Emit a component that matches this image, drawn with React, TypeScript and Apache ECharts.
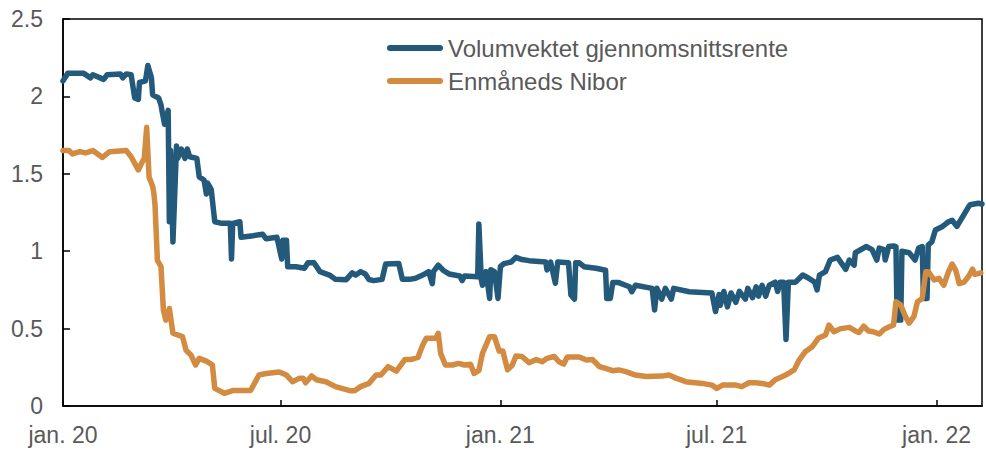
import React, { useEffect, useRef } from "react";
import * as echarts from "echarts";

const xMin = "2020-01-01";
const xMax = "2022-02-08";
const tickDates = ["2020-01-01", "2020-07-01", "2021-01-01", "2021-07-01", "2022-01-01"];
const tickLabels = ["jan. 20", "jul. 20", "jan. 21", "jul. 21", "jan. 22"];
const seriesNames = ["Volumvektet gjennomsnittsrente", "Enmåneds Nibor"];

const volumDates = [
  "2020-01-01","2020-01-05","2020-01-18","2020-01-24","2020-01-26","2020-02-04","2020-02-07","2020-02-18","2020-02-20","2020-02-23",
  "2020-02-27","2020-03-01","2020-03-04","2020-03-05","2020-03-10","2020-03-12","2020-03-15","2020-03-16","2020-03-21","2020-03-23",
  "2020-03-24","2020-03-26","2020-03-29","2020-03-30","2020-03-31","2020-04-02","2020-04-05","2020-04-06","2020-04-09","2020-04-12",
  "2020-04-14","2020-04-16","2020-04-22","2020-04-24","2020-04-28","2020-04-30","2020-05-01","2020-05-04","2020-05-07","2020-05-13",
  "2020-05-20","2020-05-21","2020-05-22","2020-05-28","2020-05-29","2020-06-08","2020-06-16","2020-06-19","2020-06-28","2020-07-02",
  "2020-07-03","2020-07-06","2020-07-07","2020-07-14","2020-07-21","2020-07-24","2020-07-29","2020-08-03","2020-08-11","2020-08-16",
  "2020-08-25","2020-08-30","2020-09-02","2020-09-06","2020-09-10","2020-09-13","2020-09-17","2020-09-24","2020-09-27","2020-10-08",
  "2020-10-11","2020-10-17","2020-10-22","2020-10-28","2020-11-02","2020-11-05","2020-11-06","2020-11-10","2020-11-14","2020-11-19",
  "2020-11-28","2020-11-30","2020-12-02","2020-12-13","2020-12-14","2020-12-16","2020-12-17","2020-12-20","2020-12-23","2020-12-24",
  "2020-12-27","2020-12-30","2021-01-01","2021-01-04","2021-01-10","2021-01-14","2021-01-19","2021-01-25","2021-02-08","2021-02-09",
  "2021-02-12","2021-02-16","2021-02-18","2021-02-27","2021-03-01","2021-03-04","2021-03-05","2021-03-08","2021-03-12","2021-03-22",
  "2021-03-30","2021-03-31","2021-04-03","2021-04-05","2021-04-10","2021-04-19","2021-04-21","2021-04-24","2021-05-08","2021-05-10",
  "2021-05-12","2021-05-16","2021-05-19","2021-05-24","2021-05-26","2021-06-08","2021-06-27","2021-06-30","2021-07-03","2021-07-04",
  "2021-07-07","2021-07-10","2021-07-13","2021-07-17","2021-07-20","2021-07-25","2021-07-27","2021-07-31","2021-08-03","2021-08-05",
  "2021-08-08","2021-08-11","2021-08-14","2021-08-19","2021-08-21","2021-08-23","2021-08-26","2021-08-28","2021-08-30","2021-09-05",
  "2021-09-11","2021-09-16","2021-09-21","2021-09-23","2021-09-25","2021-09-30","2021-10-04","2021-10-10","2021-10-17","2021-10-20",
  "2021-10-24","2021-10-25","2021-11-03","2021-11-08","2021-11-12","2021-11-14","2021-11-18","2021-11-19","2021-11-22","2021-11-26",
  "2021-11-28","2021-11-29","2021-12-02","2021-12-03","2021-12-09","2021-12-14","2021-12-17","2021-12-20","2021-12-21","2021-12-24",
  "2021-12-25","2021-12-28","2021-12-31","2022-01-06","2022-01-11","2022-01-14","2022-01-18","2022-01-22","2022-01-27","2022-01-29",
  "2022-02-05","2022-02-08"
];
const volumValues = [
  2.10,2.15,2.15,2.12,2.14,2.11,2.14,2.145,2.12,2.145,
  2.14,1.99,1.98,2.09,2.10,2.20,2.12,2.01,1.99,1.945,
  1.90,1.82,1.91,1.19,1.65,1.06,1.68,1.60,1.66,1.60,
  1.66,1.61,1.60,1.48,1.46,1.37,1.44,1.40,1.19,1.18,
  1.18,0.95,1.18,1.19,1.09,1.10,1.11,1.08,1.09,0.95,
  1.07,1.07,0.90,0.90,0.89,0.926,0.925,0.868,0.846,0.818,
  0.816,0.86,0.846,0.868,0.853,0.817,0.81,0.818,0.917,0.92,
  0.818,0.818,0.825,0.846,0.868,0.79,0.868,0.91,0.877,0.853,
  0.84,0.81,0.84,0.835,1.175,0.817,0.78,0.868,0.695,0.88,
  0.868,0.695,0.90,0.92,0.93,0.96,0.946,0.939,0.93,0.879,
  0.93,0.793,0.93,0.925,0.717,0.69,0.925,0.925,0.90,0.89,
  0.877,0.695,0.695,0.797,0.797,0.77,0.738,0.78,0.76,0.62,
  0.76,0.69,0.76,0.69,0.76,0.738,0.73,0.61,0.72,0.65,
  0.74,0.64,0.73,0.67,0.74,0.69,0.76,0.70,0.77,0.71,
  0.78,0.71,0.78,0.80,0.74,0.80,0.80,0.43,0.80,0.80,
  0.846,0.825,0.80,0.75,0.846,0.868,0.943,0.96,0.883,0.943,
  0.91,0.99,1.03,1.01,0.943,1.02,1.01,0.943,1.03,1.034,
  1.03,0.555,0.555,1.00,0.99,0.943,1.02,1.03,0.695,0.695,
  1.04,1.06,1.137,1.16,1.19,1.20,1.16,1.212,1.277,1.30,
  1.31,1.305
];

const niborDates = [
  "2020-01-01","2020-01-06","2020-01-09","2020-01-15","2020-01-20","2020-01-26","2020-02-03","2020-02-09","2020-02-23","2020-02-27",
  "2020-03-04","2020-03-06","2020-03-09","2020-03-11","2020-03-13","2020-03-16","2020-03-17","2020-03-18","2020-03-20","2020-03-23",
  "2020-03-25","2020-03-27","2020-03-30","2020-04-02","2020-04-10","2020-04-13","2020-04-17","2020-04-21","2020-04-24","2020-04-30",
  "2020-05-05","2020-05-07","2020-05-15","2020-05-22","2020-06-06","2020-06-13","2020-06-19","2020-06-30","2020-07-06","2020-07-11",
  "2020-07-17","2020-07-20","2020-07-22","2020-07-27","2020-07-31","2020-08-08","2020-08-16","2020-08-28","2020-09-01","2020-09-06",
  "2020-09-13","2020-09-19","2020-09-23","2020-09-29","2020-10-06","2020-10-13","2020-10-18","2020-10-24","2020-10-28","2020-10-31",
  "2020-11-08","2020-11-10","2020-11-12","2020-11-16","2020-11-22","2020-11-27","2020-12-02","2020-12-07","2020-12-10","2020-12-14",
  "2020-12-17","2020-12-23","2020-12-27","2020-12-31","2021-01-03","2021-01-07","2021-01-11","2021-01-14","2021-01-19","2021-01-25",
  "2021-01-31","2021-02-05","2021-02-09","2021-02-15","2021-02-19","2021-02-23","2021-02-26","2021-03-08","2021-03-14","2021-03-19",
  "2021-03-25","2021-03-30","2021-04-05","2021-04-10","2021-04-16","2021-04-24","2021-05-03","2021-05-16","2021-05-22","2021-05-28",
  "2021-06-05","2021-06-19","2021-06-27","2021-07-01","2021-07-06","2021-07-17","2021-07-22","2021-07-28","2021-08-03","2021-08-08",
  "2021-08-14","2021-08-19","2021-08-25","2021-08-30","2021-09-04","2021-09-08","2021-09-13","2021-09-19","2021-09-24","2021-09-30",
  "2021-10-03","2021-10-07","2021-10-13","2021-10-20","2021-10-25","2021-10-28","2021-11-01","2021-11-05","2021-11-09","2021-11-14",
  "2021-11-18","2021-11-22","2021-11-26","2021-11-28","2021-12-02","2021-12-06","2021-12-09","2021-12-13","2021-12-16","2021-12-20",
  "2021-12-23","2021-12-25","2021-12-30","2022-01-03","2022-01-07","2022-01-11","2022-01-14","2022-01-17","2022-01-20","2022-01-24",
  "2022-01-28","2022-01-31","2022-02-02","2022-02-07"
];
const niborValues = [
  1.65,1.65,1.628,1.643,1.635,1.65,1.606,1.643,1.65,1.61,
  1.525,1.557,1.60,1.80,1.48,1.42,1.375,1.30,0.94,0.90,
  0.62,0.555,0.63,0.47,0.448,0.36,0.33,0.265,0.308,0.29,
  0.265,0.114,0.082,0.10,0.10,0.20,0.21,0.22,0.20,0.157,
  0.18,0.179,0.15,0.194,0.17,0.157,0.125,0.099,0.099,0.125,
  0.146,0.20,0.20,0.254,0.225,0.30,0.30,0.314,0.394,0.437,
  0.437,0.47,0.34,0.265,0.265,0.275,0.265,0.27,0.21,0.23,
  0.34,0.448,0.448,0.355,0.355,0.233,0.265,0.323,0.32,0.28,
  0.30,0.286,0.308,0.32,0.286,0.271,0.317,0.317,0.297,0.30,
  0.254,0.243,0.228,0.233,0.222,0.20,0.19,0.193,0.20,0.18,
  0.157,0.146,0.135,0.114,0.135,0.135,0.125,0.15,0.15,0.146,
  0.135,0.17,0.19,0.21,0.235,0.297,0.35,0.383,0.437,0.458,
  0.523,0.48,0.50,0.508,0.485,0.475,0.515,0.485,0.48,0.465,
  0.495,0.51,0.523,0.674,0.652,0.577,0.535,0.577,0.674,0.695,
  0.868,0.868,0.814,0.825,0.78,0.868,0.917,0.878,0.79,0.80,
  0.84,0.884,0.85,0.86
];

const BLUE = "#235a7b";
const ORANGE = "#d28b40";
const TEXT = "#595959";
const FONT = "'Liberation Sans', Arial, sans-serif";

export default function App() {
  const ref = useRef<HTMLDivElement>(null);

  useEffect(() => {
    if (!ref.current) return;
    const chart = echarts.init(ref.current, undefined, { renderer: "svg" });
    const parse = (d: string) => echarts.time.parse(d).getTime();
    const tickTs = tickDates.map(parse);
    const capsule = "path://M3,0 L53,0 A3,3 0 0 1 53,6 L3,6 A3,3 0 0 1 3,0 Z";

    chart.setOption({
      animation: false,
      backgroundColor: "#ffffff",
      textStyle: { fontFamily: FONT },
      grid: {
        left: 63,
        right: 4,
        top: 19,
        bottom: 44,
        show: true,
        borderColor: "#000000",
        borderWidth: 1.5,
        backgroundColor: "transparent",
      },
      legend: {
        data: seriesNames,
        orient: "vertical",
        left: 382,
        top: 31,
        itemWidth: 56,
        itemHeight: 6,
        itemGap: 9,
        icon: capsule,
        textStyle: { color: TEXT, fontSize: 24, fontFamily: FONT, lineHeight: 24 },
      },
      xAxis: {
        type: "value",
        min: parse(xMin),
        max: parse(xMax),
        axisLine: { show: true, lineStyle: { color: "#000000", width: 1.5 } },
        axisTick: {
          show: true,
          inside: true,
          length: 6,
          customValues: tickTs,
          lineStyle: { color: "#000000", width: 1.5 },
        },
        axisLabel: {
          customValues: tickTs,
          color: TEXT,
          fontSize: 23,
          fontFamily: FONT,
          margin: 17,
          showMinLabel: true,
          formatter: (v: number) => {
            const i = tickTs.indexOf(v);
            return i >= 0 ? tickLabels[i] : "";
          },
        },
        splitLine: { show: false },
      },
      yAxis: {
        type: "value",
        min: 0,
        max: 2.5,
        interval: 0.5,
        axisLine: { show: true, lineStyle: { color: "#000000", width: 1.5 } },
        axisTick: { show: true, inside: true, length: 7, lineStyle: { color: "#000000", width: 1.5 } },
        axisLabel: { color: TEXT, fontSize: 23, fontFamily: FONT, margin: 20 },
        splitLine: { show: false },
      },
      series: [
        {
          name: seriesNames[0],
          type: "line",
          showSymbol: false,
          symbol: "none",
          color: BLUE,
          lineStyle: { color: BLUE, width: 5.5, cap: "round", join: "round" },
          data: volumDates.map((d, i) => [parse(d), volumValues[i]]),
          z: 2,
        },
        {
          name: seriesNames[1],
          type: "line",
          showSymbol: false,
          symbol: "none",
          color: ORANGE,
          lineStyle: { color: ORANGE, width: 5.5, cap: "round", join: "round" },
          data: niborDates.map((d, i) => [parse(d), niborValues[i]]),
          z: 3,
        },
      ],
    });

    return () => chart.dispose();
  }, []);

  return (
    <div
      ref={ref}
      style={{ position: "fixed", left: 0, top: 0, width: 986, height: 450, background: "#fff" }}
    />
  );
}
